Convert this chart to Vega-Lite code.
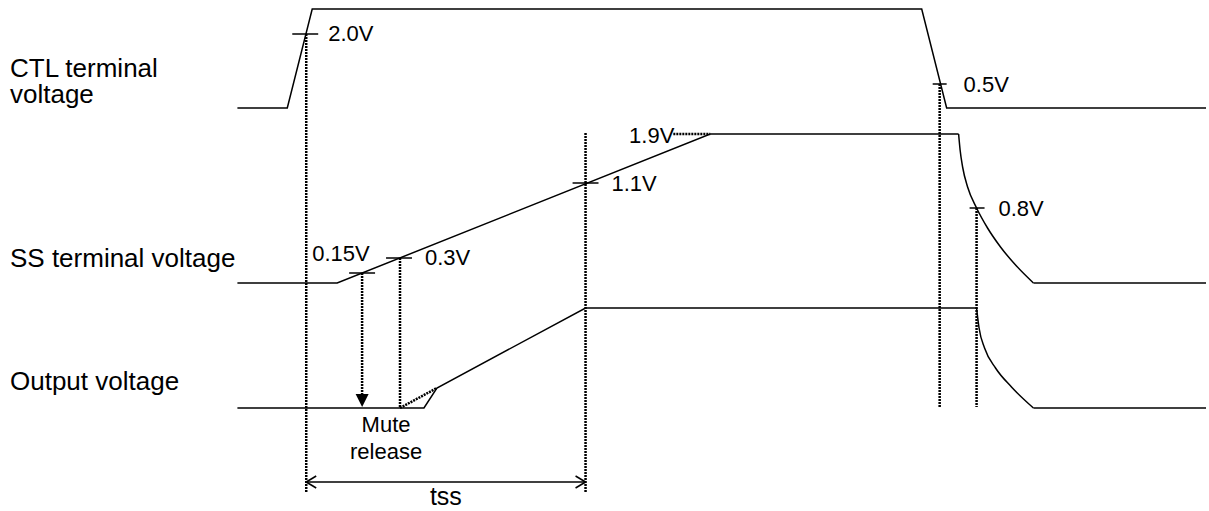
{
  "$schema": "https://vega.github.io/schema/vega-lite/v6.json",
  "width": 1209,
  "height": 511,
  "autosize": {"type": "fit", "contains": "padding"},
  "padding": 0,
  "background": "white",
  "config": {"view": {"stroke": null}, "font": "Liberation Sans"},
  "datasets": {
    "signals": [
      {"sig": "CTL", "t": 238, "v": 108}, {"sig": "CTL", "t": 288, "v": 108}, {"sig": "CTL", "t": 313, "v": 9},
      {"sig": "CTL", "t": 924, "v": 9}, {"sig": "CTL", "t": 949, "v": 108}, {"sig": "CTL", "t": 1209, "v": 108},
      {"sig": "SS1", "t": 238, "v": 283}, {"sig": "SS1", "t": 338, "v": 283}, {"sig": "SS1", "t": 712, "v": 134}, {"sig": "SS1", "t": 961, "v": 134},
      {"sig": "SS2", "t": 1036, "v": 283}, {"sig": "SS2", "t": 1209, "v": 283},
      {"sig": "OUT1", "t": 238, "v": 408}, {"sig": "OUT1", "t": 425, "v": 408}, {"sig": "OUT1", "t": 438, "v": 388},
      {"sig": "OUT1", "t": 587, "v": 308}, {"sig": "OUT1", "t": 979, "v": 308},
      {"sig": "OUT2", "t": 1036, "v": 408}, {"sig": "OUT2", "t": 1209, "v": 408}
    ],
    "curves": [
      {"sig": "SSc", "t": 961, "v": 134}, {"sig": "SSc", "t": 962.5, "v": 150}, {"sig": "SSc", "t": 965, "v": 167},
      {"sig": "SSc", "t": 970, "v": 187}, {"sig": "SSc", "t": 979, "v": 208}, {"sig": "SSc", "t": 990, "v": 228},
      {"sig": "SSc", "t": 1003, "v": 247}, {"sig": "SSc", "t": 1019, "v": 266}, {"sig": "SSc", "t": 1036, "v": 283},
      {"sig": "OUTc", "t": 979, "v": 308}, {"sig": "OUTc", "t": 981.5, "v": 328}, {"sig": "OUTc", "t": 987, "v": 348},
      {"sig": "OUTc", "t": 998, "v": 368}, {"sig": "OUTc", "t": 1014, "v": 387}, {"sig": "OUTc", "t": 1036, "v": 408}
    ],
    "dotted": [
      {"t": 307, "t2": 307, "v": 34, "v2": 492},
      {"t": 363, "t2": 363, "v": 273, "v2": 396},
      {"t": 401, "t2": 401, "v": 258, "v2": 408},
      {"t": 587, "t2": 587, "v": 133, "v2": 492},
      {"t": 942, "t2": 942, "v": 84, "v2": 408},
      {"t": 979, "t2": 979, "v": 208, "v2": 407},
      {"t": 675, "t2": 712, "v": 134, "v2": 134},
      {"t": 401, "t2": 438, "v": 408, "v2": 388}
    ],
    "ticks": [
      {"t": 293, "t2": 319, "v": 34, "v2": 34},
      {"t": 935, "t2": 949, "v": 84, "v2": 84},
      {"t": 350, "t2": 376, "v": 273, "v2": 273},
      {"t": 387, "t2": 413, "v": 258, "v2": 258},
      {"t": 574, "t2": 600, "v": 183, "v2": 183},
      {"t": 972, "t2": 987, "v": 208, "v2": 208},
      {"t": 307, "t2": 587, "v": 482, "v2": 482},
      {"t": 307, "t2": 317, "v": 482, "v2": 476},
      {"t": 307, "t2": 317, "v": 482, "v2": 488},
      {"t": 587, "t2": 577, "v": 482, "v2": 476},
      {"t": 587, "t2": 577, "v": 482, "v2": 488}
    ],
    "arrowheads": [{"t": 363, "v": 400.5}],
    "labels": [
      {"role": "left", "t": 10, "v": 77, "text": "CTL terminal\nvoltage"},
      {"role": "left", "t": 10, "v": 267, "text": "SS terminal voltage"},
      {"role": "left", "t": 10, "v": 390, "text": "Output voltage"},
      {"role": "value", "t": 329, "v": 41, "text": "2.0V"},
      {"role": "value", "t": 966, "v": 92, "text": "0.5V"},
      {"role": "value", "t": 613, "v": 191, "text": "1.1V"},
      {"role": "value", "t": 1001, "v": 216, "text": "0.8V"},
      {"role": "value", "t": 313, "v": 261, "text": "0.15V"},
      {"role": "value", "t": 426, "v": 265, "text": "0.3V"},
      {"role": "right", "t": 676, "v": 143, "text": "1.9V"},
      {"role": "center", "t": 387, "v": 432, "text": "Mute\nrelease"},
      {"role": "tss", "t": 447, "v": 505, "text": "tss"}
    ]
  },
  "encoding": {
    "x": {"field": "t", "type": "quantitative", "scale": {"domain": [0, 1209], "nice": false, "zero": false}, "axis": null},
    "y": {"field": "v", "type": "quantitative", "scale": {"domain": [0, 511], "reverse": true, "nice": false, "zero": false}, "axis": null}
  },
  "layer": [
    {
      "data": {"name": "dotted"},
      "mark": {"type": "rule", "color": "black", "strokeWidth": 2.5, "strokeDash": [2, 1]},
      "encoding": {"x2": {"field": "t2"}, "y2": {"field": "v2"}}
    },
    {
      "data": {"name": "signals"},
      "mark": {"type": "line", "color": "black", "strokeWidth": 1.5, "interpolate": "linear"},
      "encoding": {"detail": {"field": "sig", "type": "nominal"}}
    },
    {
      "data": {"name": "curves"},
      "mark": {"type": "line", "color": "black", "strokeWidth": 1.5, "interpolate": "monotone"},
      "encoding": {"detail": {"field": "sig", "type": "nominal"}}
    },
    {
      "data": {"name": "ticks"},
      "mark": {"type": "rule", "color": "black", "strokeWidth": 1.5},
      "encoding": {"x2": {"field": "t2"}, "y2": {"field": "v2"}}
    },
    {
      "data": {"name": "arrowheads"},
      "mark": {"type": "point", "shape": "M-1,-1L1,-1L0,1Z", "size": 169, "filled": true, "color": "black", "opacity": 1, "strokeWidth": 0},
      "encoding": {}
    },
    {
      "data": {"name": "labels"},
      "transform": [{"filter": "datum.role === 'left'"}],
      "mark": {"type": "text", "align": "left", "baseline": "alphabetic", "fontSize": 26, "lineHeight": 26, "lineBreak": "\n", "color": "black"},
      "encoding": {"text": {"field": "text"}}
    },
    {
      "data": {"name": "labels"},
      "transform": [{"filter": "datum.role === 'value'"}],
      "mark": {"type": "text", "align": "left", "baseline": "alphabetic", "fontSize": 22, "color": "black"},
      "encoding": {"text": {"field": "text"}}
    },
    {
      "data": {"name": "labels"},
      "transform": [{"filter": "datum.role === 'right'"}],
      "mark": {"type": "text", "align": "right", "baseline": "alphabetic", "fontSize": 22, "color": "black"},
      "encoding": {"text": {"field": "text"}}
    },
    {
      "data": {"name": "labels"},
      "transform": [{"filter": "datum.role === 'center'"}],
      "mark": {"type": "text", "align": "center", "baseline": "alphabetic", "fontSize": 22, "lineHeight": 27, "lineBreak": "\n", "color": "black"},
      "encoding": {"text": {"field": "text"}}
    },
    {
      "data": {"name": "labels"},
      "transform": [{"filter": "datum.role === 'tss'"}],
      "mark": {"type": "text", "align": "center", "baseline": "alphabetic", "fontSize": 25, "color": "black"},
      "encoding": {"text": {"field": "text"}}
    }
  ]
}
